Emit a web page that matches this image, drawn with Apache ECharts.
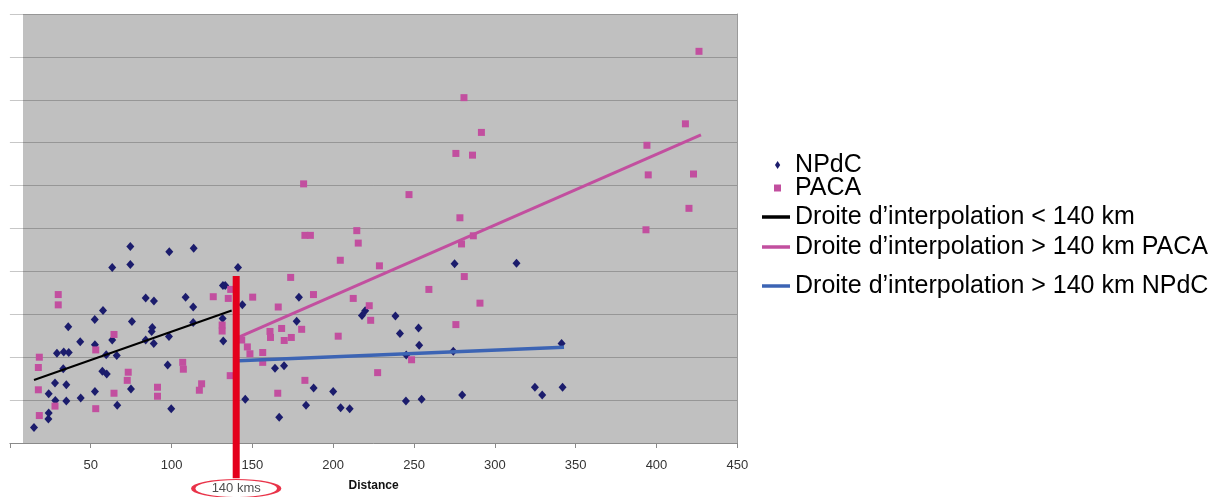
<!DOCTYPE html>
<html><head><meta charset="utf-8">
<script src="https://cdn.jsdelivr.net/npm/echarts@6/dist/echarts.min.js"></script>
<style>html,body{margin:0;padding:0;background:#fff}#c{width:1220px;height:497px}</style>
</head><body><div id="c"></div>
<script>
// ---- data ----
const npdc = [
 [74.5,4.58],[98.6,4.46],[113.7,4.54],[63.3,4.09],[74.5,4.16],[141.1,4.09],[131.8,3.67],[133.2,3.67],
 [84.0,3.38],[89.1,3.31],[108.7,3.40],[113.4,3.17],[143.8,3.22],[57.6,3.09],[52.5,2.88],[75.5,2.83],
 [36.1,2.71],[88.1,2.69],[87.7,2.60],[113.4,2.81],[131.6,2.90],[43.5,2.36],[52.6,2.29],[63.3,2.40],
 [84.0,2.40],[89.0,2.32],[98.4,2.48],[132.0,2.38],[29.1,2.09],[33.3,2.12],[36.4,2.11],[59.6,2.06],
 [66.1,2.04],[33.0,1.73],[57.2,1.67],[59.9,1.61],[97.6,1.82],[27.9,1.40],[34.9,1.36],[74.9,1.26],
 [24.0,1.15],[28.1,0.99],[34.9,0.98],[43.8,1.05],[52.6,1.20],[66.4,0.88],[99.8,0.80],[24.0,0.70],
 [23.8,0.56],[14.9,0.36],[145.6,1.02],[166.6,0.60],[169.6,1.80],[164.0,1.74],[187.9,1.28],[200.0,1.20],
 [183.2,0.88],[204.6,0.82],[210.2,0.80],[178.8,3.40],[177.4,2.84],[217.8,2.97],[219.8,3.08],[238.5,2.96],
 [241.3,2.55],[252.8,2.68],[253.2,2.28],[245.2,2.05],[274.3,2.14],[275.1,4.18],[313.4,4.19],[341.3,2.32],
 [324.8,1.30],[329.3,1.12],[341.9,1.30],[245.0,0.98],[254.7,1.02],[279.8,1.12]
];
const paca = [
 [426.3,9.13],[280.9,8.05],[291.7,7.24],[275.9,6.75],[286.2,6.71],[417.9,7.44],[394.1,6.94],[394.9,6.25],
 [422.9,6.27],[420.1,5.47],[393.5,4.97],[181.7,6.04],[246.9,5.79],[278.4,5.25],[214.6,4.95],[182.5,4.84],
 [185.9,4.84],[286.7,4.83],[279.4,4.64],[215.5,4.66],[204.4,4.26],[228.6,4.13],[173.7,3.86],[150.2,3.40],
 [187.8,3.46],[166.0,3.17],[212.4,3.37],[222.3,3.20],[223.2,2.86],[168.1,2.67],[180.5,2.65],[160.9,2.60],
 [161.2,2.46],[174.1,2.46],[169.7,2.39],[203.1,2.49],[259.2,3.58],[281.1,3.88],[290.8,3.26],[275.9,2.76],
 [248.5,1.94],[227.5,1.64],[182.5,1.46],[165.7,1.16],[143.4,2.40],[146.9,2.24],[148.5,2.08],[156.4,2.11],
 [156.4,1.88],[29.9,3.46],[29.9,3.22],[125.8,3.41],[135.1,3.37],[136.6,3.58],[131.3,2.75],[131.3,2.61],
 [64.4,2.53],[136.3,1.57],[18.2,2.00],[17.6,1.76],[53.1,2.17],[106.9,1.88],[107.3,1.72],[73.2,1.65],
 [72.6,1.46],[17.6,1.24],[64.4,1.16],[91.3,1.30],[91.3,1.09],[118.6,1.38],[117.2,1.23],[27.9,0.86],
 [53.1,0.80],[18.2,0.64]
];
const trendBelow = [[14.9,1.47],[137.2,3.09]];
const trendPaca  = [[141.3,2.46],[427.5,7.18]];
const trendNpdc  = [[141.3,1.92],[342.8,2.23]];
const r2Labels = [[71.2,2.95,'0.2305'],[373.9,7.13,'0.5298'],[337.2,1.92,'0.0055']];
const cutoffBar = [[140,3.89],[140,-0.82]];
const cutoffMark = [[140,-1.06]];
const cutoffText = '140 kms';
const names = ['NPdC','PACA','Droite d\u2019interpolation < 140 km','Droite d\u2019interpolation > 140 km PACA','Droite d\u2019interpolation > 140 km NPdC'];
const axisName = 'Distance';
const xMin = 0, xMax = 450, xStep = 50;
const yMin = 0, yMax = 10, yStep = 1;

// ---- chart ----
const FONT = "'Liberation Sans', Arial, Helvetica, sans-serif";
const NAVY = '#1b1c6c', PINK = '#c24f9f', BLUE = '#3c64b4', RED = '#e4001c';
const chart = echarts.init(document.getElementById('c'), null, {renderer: 'canvas'});

function legendAt(top, left, item, w, h) {
  return {
    data: [item], orient: 'horizontal', top: top, left: left, padding: 0, itemGap: 0,
    itemWidth: w, itemHeight: h, selectedMode: false,
    textStyle: {fontFamily: FONT, fontSize: 25, color: '#000', lineHeight: 28}
  };
}
const diamondIcon = 'path://M0,-10L6.5,0L0,10L-6.5,0Z';
const squareIcon = 'path://M0,0H10V10H0Z';
const lineIcon = 'path://M0,0H28V3.5H0Z';

chart.setOption({
  backgroundColor: '#fff',
  animation: false,
  textStyle: {fontFamily: FONT},
  grid: {left: 9.9, right: 482.7, top: 14, bottom: 50.7, containLabel: false},
  xAxis: {
    type: 'value', min: xMin, max: xMax, interval: xStep,
    name: axisName, nameLocation: 'middle', nameGap: 37,
    nameTextStyle: {fontFamily: FONT, fontSize: 12, fontWeight: 'bold', color: '#111'},
    axisLine: {show: true, lineStyle: {color: '#8a8a8a', width: 1}},
    axisTick: {show: true, length: 5, lineStyle: {color: '#8a8a8a'}},
    axisLabel: {margin: 16, fontSize: 13, color: '#333', fontFamily: FONT,
      formatter: v => v === 0 ? '' : String(v)},
    splitLine: {show: false}, z: 2
  },
  yAxis: [{
    type: 'value', min: yMin, max: yMax, interval: yStep, z: 2,
    axisLine: {show: false}, axisTick: {show: false}, axisLabel: {show: false},
    splitLine: {show: true, lineStyle: {color: 'rgba(0,0,0,0.22)', width: 1}}
  }, {
    type: 'value', min: yMin, max: yMax, position: 'right', z: 2,
    axisLine: {show: true, lineStyle: {color: '#9a9a9a', width: 1}},
    axisTick: {show: false}, axisLabel: {show: false}, splitLine: {show: false}
  }],
  legend: [
    legendAt(151, 775, {name: names[0], icon: diamondIcon, itemStyle: {color: NAVY}}, 25, 8),
    legendAt(174, 774, {name: names[1], icon: squareIcon, itemStyle: {color: PINK}}, 25, 7),
    legendAt(203, 762, {name: names[2], icon: lineIcon, itemStyle: {color: '#000'}}, 28, 14),
    legendAt(233, 762, {name: names[3], icon: lineIcon, itemStyle: {color: PINK}}, 28, 14),
    legendAt(272, 762, {name: names[4], icon: lineIcon, itemStyle: {color: BLUE}}, 28, 14)
  ],
  series: [
    { // plot-area fill
      type: 'line', data: [], z: 0, silent: true,
      markArea: {silent: true, z: 0, itemStyle: {color: '#c0c0c0'},
        data: [[{coord: [8.1, yMin]}, {coord: [xMax, yMax]}]]}
    },
    {name: names[0], type: 'scatter', data: npdc, symbol: 'diamond', symbolSize: [8, 9],
      itemStyle: {color: NAVY, opacity: 1}, z: 3},
    {name: names[1], type: 'scatter', data: paca, symbol: 'rect', symbolSize: 7,
      itemStyle: {color: PINK, opacity: 1}, z: 3},
    {name: names[2], type: 'line', data: trendBelow, symbol: 'none', z: 4,
      lineStyle: {color: '#000', width: 2}, itemStyle: {color: '#000'}},
    {name: names[3], type: 'line', data: trendPaca, symbol: 'none', z: 4,
      lineStyle: {color: PINK, width: 3}, itemStyle: {color: PINK}},
    {name: names[4], type: 'line', data: trendNpdc, symbol: 'none', z: 4,
      lineStyle: {color: BLUE, width: 3.5}, itemStyle: {color: BLUE}},
    { // R² labels
      type: 'scatter', data: r2Labels, symbolSize: 1, silent: true, z: 6,
      itemStyle: {opacity: 0},
      label: {show: true, position: 'right', distance: 0, color: '#1a1a1a',
        formatter: p => '{r|R}{s|2}{r| = ' + p.data[2] + '}',
        rich: {r: {fontSize: 13, fontFamily: FONT, color: '#1a1a1a', lineHeight: 15},
               s: {fontSize: 8, fontFamily: FONT, color: '#1a1a1a', verticalAlign: 'top', lineHeight: 15}}}
    },
    { // cut-off bar
      type: 'line', data: cutoffBar, symbol: 'none', clip: false, silent: true, z: 7,
      lineStyle: {color: RED, width: 7, cap: 'butt'}
    },
    { // cut-off label
      type: 'scatter', data: cutoffMark, symbol: 'circle', symbolSize: [86, 18], clip: false, silent: true, z: 7,
      itemStyle: {color: '#fff', borderColor: RED, borderWidth: 2},
      label: {show: true, position: 'inside', formatter: cutoffText, fontSize: 13, color: '#222', fontFamily: FONT}
    }
  ]
});
</script></body></html>
